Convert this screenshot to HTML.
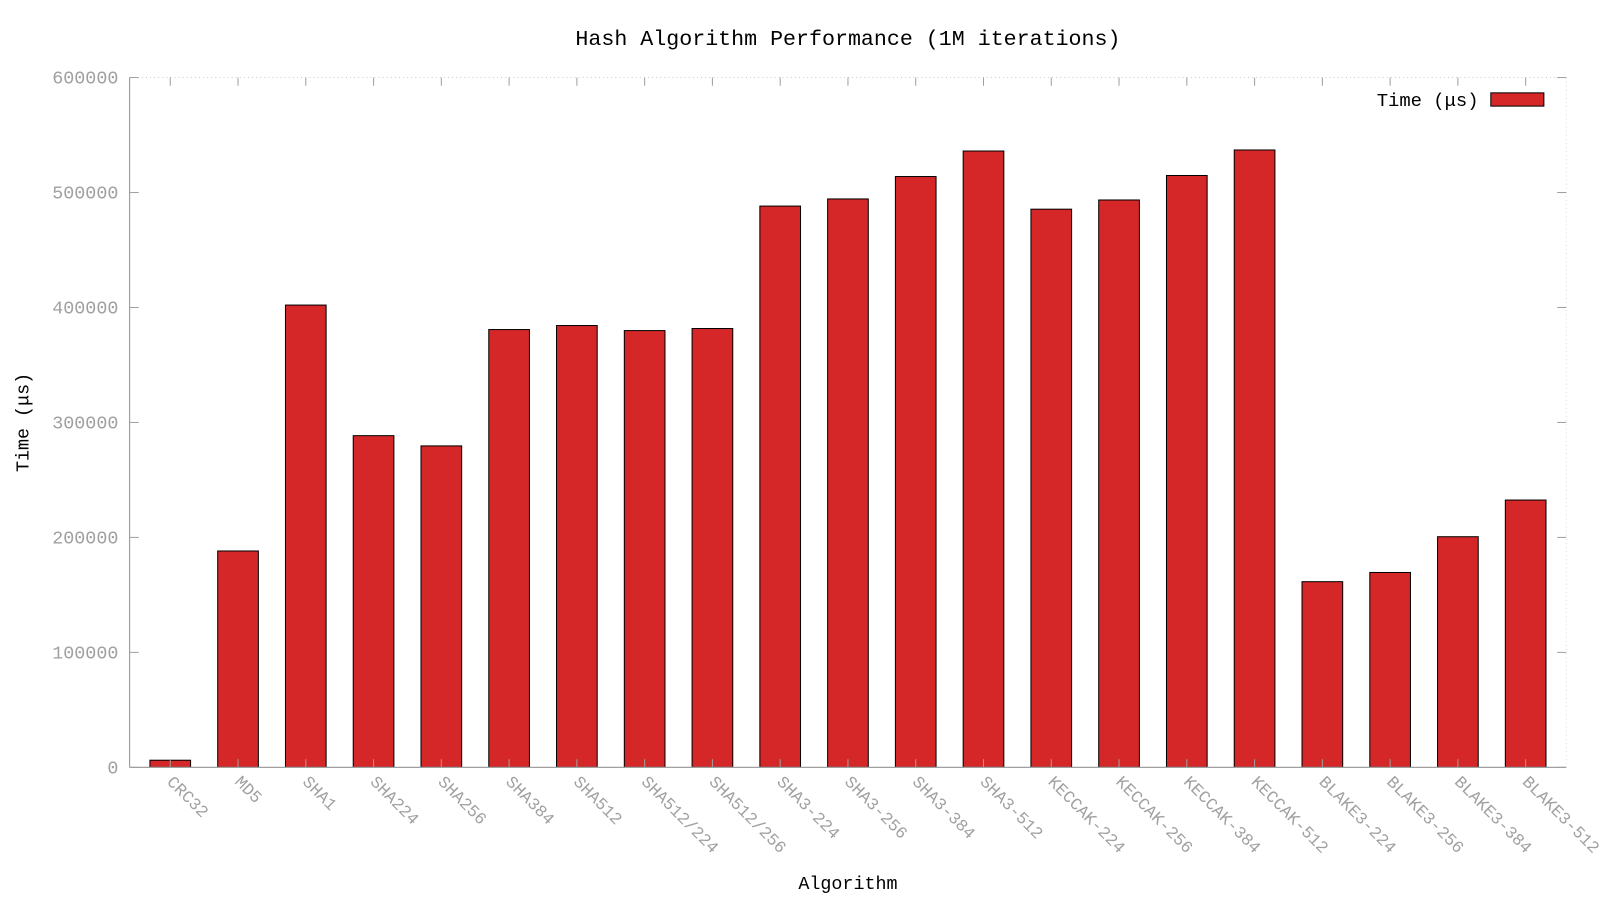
<!DOCTYPE html>
<html><head><meta charset="utf-8"><style>
html,body{margin:0;padding:0;background:#fff;}
svg{display:block;font-family:"Liberation Mono",monospace;}
</style></head><body>
<svg id="chart" width="1600" height="900" viewBox="0 0 1568 882" xmlns="http://www.w3.org/2000/svg">
<text x="831" y="44" text-anchor="middle" font-size="21.2" fill="#000">Hash Algorithm Performance (1M iterations)</text>
<text transform="translate(28,414) rotate(-90)" text-anchor="middle" font-size="18" fill="#000">Time (μs)</text>
<text x="831" y="871" text-anchor="middle" font-size="18" fill="#000">Algorithm</text>
<g id="grid"></g>
<g id="bars"></g>
<g id="axes"></g>
<g>
<text x="1449" y="104" text-anchor="end" font-size="18.5" fill="#000">Time (μs)</text>
<rect x="1461" y="91" width="52" height="13" fill="#d62728" stroke="#000" stroke-width="1"/>
</g>
</svg>
<script>
const categories = ["CRC32","MD5","SHA1","SHA224","SHA256","SHA384","SHA512","SHA512/224","SHA512/256","SHA3-224","SHA3-256","SHA3-384","SHA3-512","KECCAK-224","KECCAK-256","KECCAK-384","KECCAK-512","BLAKE3-224","BLAKE3-256","BLAKE3-384","BLAKE3-512"];
const times = [6200,188200,402100,288500,279600,380800,384300,379900,381700,488200,494400,513900,536100,485500,493500,514800,537000,161500,169500,200600,232500];
const yTicks = [0,100000,200000,300000,400000,500000,600000];

const NS="http://www.w3.org/2000/svg";
const L=127,R=1535,T=76,B=752,X0=-0.6,X1=20.6,YMAX=600000;
function xs(i){return L+(i-X0)/(X1-X0)*(R-L);}
function ys(v){return B-v/YMAX*(B-T);}
function mk(tag,attrs,parent){const e=document.createElementNS(NS,tag);for(const k in attrs)e.setAttribute(k,attrs[k]);parent.appendChild(e);return e;}
const axes=document.getElementById('axes'),bars=document.getElementById('bars');
const grey="#a0a0a0";
mk('line',{x1:L,y1:T,x2:R,y2:T,stroke:"#ccc","stroke-dasharray":"1,3"},axes);
mk('line',{x1:R,y1:T,x2:R,y2:B,stroke:"#ddd","stroke-dasharray":"1,3"},axes);
const la=mk('line',{x1:L,y1:T,x2:L,y2:B,stroke:grey,"stroke-width":1.2},axes);


const lb=mk('line',{x1:L,y1:B,x2:R,y2:B,stroke:grey,"stroke-width":1.2},axes);


yTicks.forEach(v=>{
  const y=ys(v);
  mk('line',{x1:L,y1:y,x2:L+9,y2:y,stroke:grey},axes);
  mk('line',{x1:R-9,y1:y,x2:R,y2:y,stroke:grey},axes);
  const t=mk('text',{x:116,y:y+6,"text-anchor":"end","font-size":18,fill:grey},axes);
  t.textContent=v;
  
  
});
categories.forEach((c,i)=>{
  const cx=xs(i);
  mk('line',{x1:cx,y1:T,x2:cx,y2:T+8,stroke:grey},axes);
  mk('line',{x1:cx,y1:B,x2:cx,y2:B-8,stroke:grey},axes);
  const w=0.6/(X1-X0)*(R-L);
  const y=ys(times[i]);
  const r=mk('rect',{x:cx-w/2,y:y,width:w,height:B-y,fill:"#d62728",stroke:"#000","stroke-width":1},bars);
  
  
  const t=mk('text',{transform:`translate(${cx-4},${767}) rotate(45)`,"font-size":16.5,fill:grey},axes);
  t.textContent=c;
  
  
});
</script>
</body></html>
